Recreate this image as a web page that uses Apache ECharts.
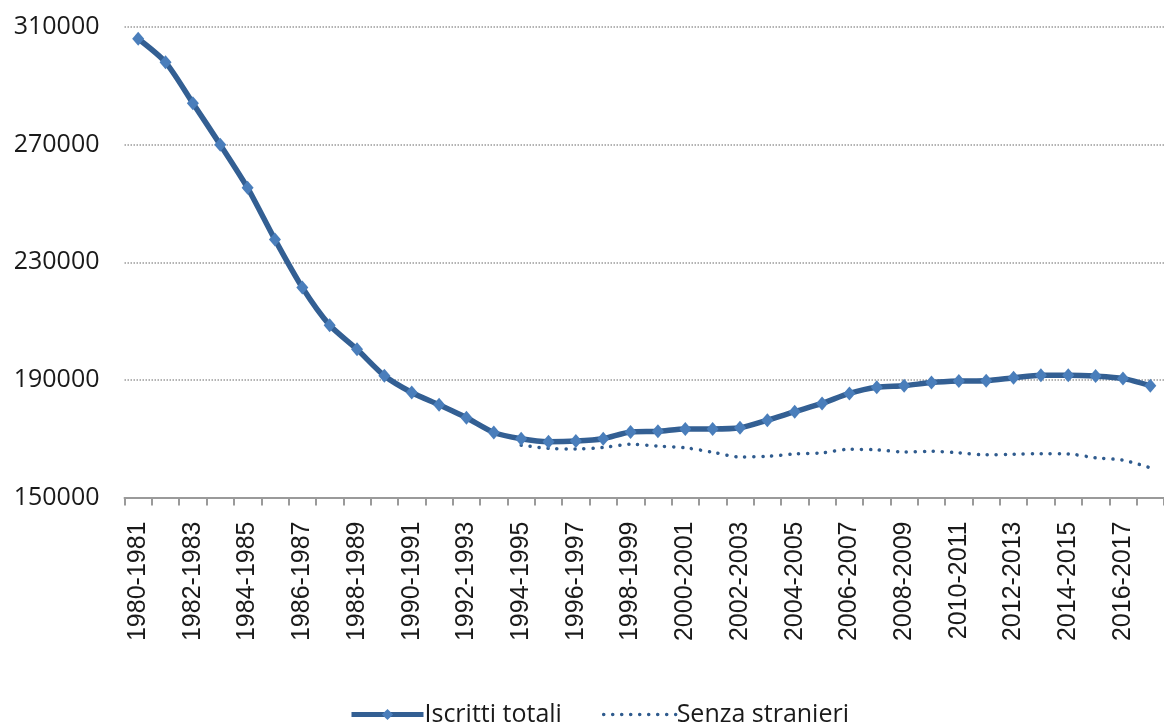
<!DOCTYPE html>
<html>
<head>
<meta charset="utf-8">
<script src="https://cdn.jsdelivr.net/npm/echarts@6/dist/echarts.min.js"></script>
<style>
  html, body { margin: 0; padding: 0; background: #ffffff; }
  #chart { width: 1164px; height: 722px; }
</style>
</head>
<body>
<div id="chart"></div>
<script>
// School years
const years = [
  '1980-1981','1981-1982','1982-1983','1983-1984','1984-1985','1985-1986','1986-1987','1987-1988',
  '1988-1989','1989-1990','1990-1991','1991-1992','1992-1993','1993-1994','1994-1995','1995-1996',
  '1996-1997','1997-1998','1998-1999','1999-2000','2000-2001','2001-2002','2002-2003','2003-2004',
  '2004-2005','2005-2006','2006-2007','2007-2008','2008-2009','2009-2010','2010-2011','2011-2012',
  '2012-2013','2013-2014','2014-2015','2015-2016','2016-2017','2017-2018'
];

// Total enrolled students
const iscrittiTotali = [
  306000, 298000, 284100, 270000, 255300, 237700, 221400, 208600,
  200400, 191400, 185700, 181500, 177100, 172100, 170000, 169000,
  169200, 170000, 172300, 172500, 173300, 173300, 173700, 176300,
  179200, 182000, 185400, 187500, 188000, 189100, 189600, 189700,
  190700, 191600, 191600, 191300, 190500, 188000
];

// Enrolled students excluding foreign students (series starts in 1994-1995)
const senzaStranieri = [
  null, null, null, null, null, null, null, null,
  null, null, null, null, null, null, 167800, 166700,
  166500, 167000, 168100, 167500, 166900, 165400, 163800, 164000,
  164800, 165200, 166400, 166200, 165500, 165700, 165200, 164500,
  164700, 164900, 164800, 163500, 162700, 160100
];

const yTicks = { min: 150000, max: 310000, step: 40000 };

const dottedStyle = { color: '#2f5b8e', width: 3.5, type: [0.1, 8.9], cap: 'round' };

const chart = echarts.init(document.getElementById('chart'));

chart.setOption({
  backgroundColor: '#ffffff',
  animation: false,
  grid: { left: 124.5, right: -10, top: 27, bottom: 224.5, containLabel: false },
  legend: {
    left: 344,
    top: 697,
    itemWidth: 72,
    itemHeight: 14,
    itemGap: 40,
    textStyle: { fontFamily: 'Open Sans', fontSize: 25, color: '#1a1a1a', padding: [0, 0, 0, -4] },
    data: [
      { name: 'Iscritti totali', lineStyle: { color: '#335f93', width: 5 } },
      { name: 'Senza stranieri', itemStyle: { opacity: 0 }, lineStyle: dottedStyle }
    ]
  },
  xAxis: {
    type: 'category',
    data: years,
    boundaryGap: true,
    axisLine: { show: true, lineStyle: { color: '#9a9a9a', width: 2 } },
    axisTick: { show: true, interval: 0, length: 8, lineStyle: { color: '#9a9a9a', width: 2 } },
    axisLabel: {
      interval: 1,
      rotate: 90,
      margin: 24,
      fontFamily: 'Liberation Sans',
      fontSize: 25,
      color: '#1a1a1a'
    },
    splitLine: { show: false }
  },
  yAxis: {
    type: 'value',
    min: yTicks.min,
    max: yTicks.max,
    interval: yTicks.step,
    axisLine: { show: false },
    axisTick: { show: false },
    axisLabel: {
      margin: 25,
      fontFamily: 'Open Sans',
      fontSize: 25,
      color: '#1a1a1a',
      formatter: (v) => String(v)
    },
    splitLine: { show: true, lineStyle: { color: '#9a9a9a', width: 1.5, type: [1.5, 1.5] } }
  },
  series: [
    {
      name: 'Iscritti totali',
      type: 'line',
      data: iscrittiTotali,
      smooth: 0.25,
      symbol: 'diamond',
      symbolSize: [12, 14],
      itemStyle: { color: '#4a7ebb' },
      lineStyle: { color: '#335f93', width: 5.5 },
      z: 3
    },
    {
      name: 'Senza stranieri',
      type: 'line',
      data: senzaStranieri,
      smooth: 0.3,
      symbol: 'none',
      itemStyle: { color: '#2f5b8e' },
      lineStyle: dottedStyle,
      z: 2
    }
  ]
});
</script>
</body>
</html>
